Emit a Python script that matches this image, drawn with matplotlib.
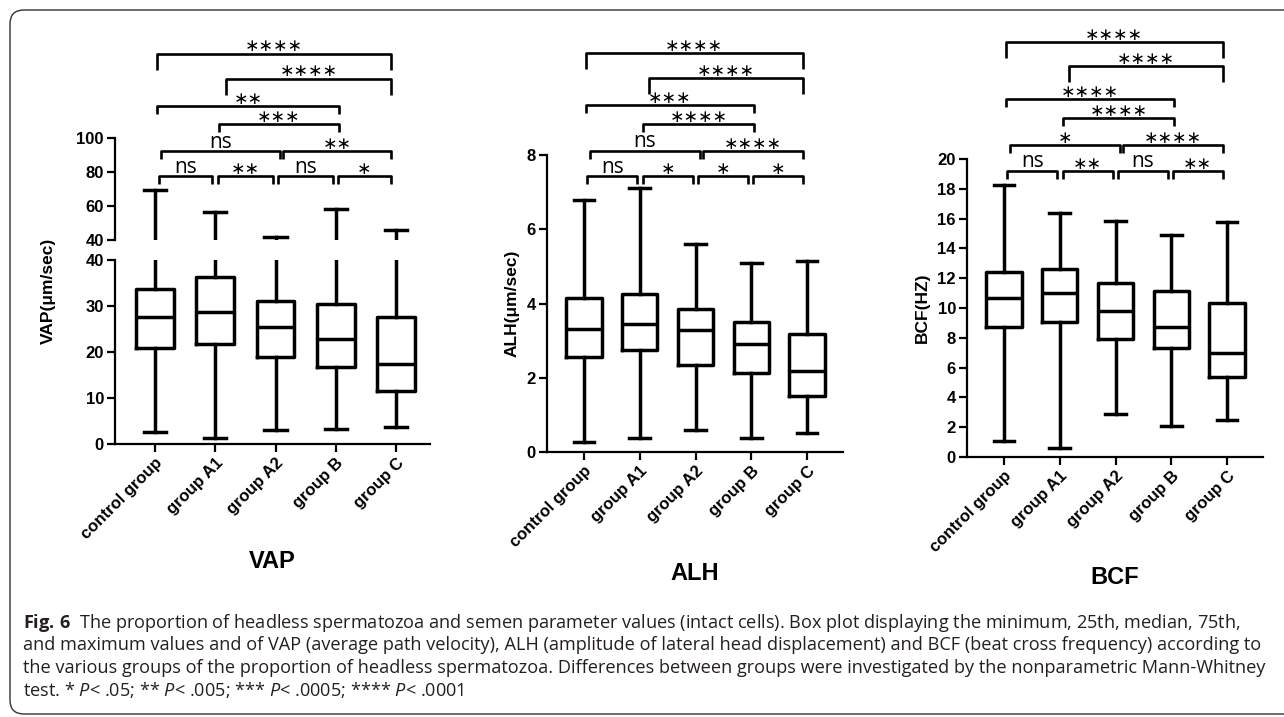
import matplotlib
matplotlib.use("Agg")
import matplotlib.pyplot as plt
from matplotlib.patches import FancyBboxPatch
from matplotlib.transforms import IdentityTransform

plt.rcParams["font.family"] = ["Liberation Sans", "DejaVu Sans"]
plt.rcParams["font.weight"] = "bold"
plt.rcParams["mathtext.fontset"] = "custom"
plt.rcParams["mathtext.rm"] = "Open Sans:normal"
plt.rcParams["mathtext.it"] = "Open Sans:italic:normal"
plt.rcParams["mathtext.bf"] = "Open Sans:bold"

groups = ["control group", "group A1", "group A2", "group B", "group C"]

# five-number summaries: min, q1, median, q3, max
vap_min = [2.6, 1.2, 3.1, 3.3, 3.6]
vap_q1 = [20.8, 21.8, 19.0, 16.7, 11.6]
vap_med = [27.7, 28.8, 25.5, 22.8, 17.4]
vap_q3 = [33.6, 36.4, 31.1, 30.4, 27.7]
vap_max = [69.3, 56.3, 41.7, 58.0, 46.0]

alh_min = [0.26, 0.39, 0.58, 0.37, 0.51]
alh_q1 = [2.56, 2.74, 2.35, 2.14, 1.50]
alh_med = [3.30, 3.46, 3.29, 2.90, 2.19]
alh_q3 = [4.14, 4.25, 3.86, 3.50, 3.18]
alh_max = [6.79, 7.10, 5.60, 5.09, 5.15]

bcf_min = [1.08, 0.60, 2.91, 2.10, 2.47]
bcf_q1 = [8.70, 9.08, 7.94, 7.29, 5.34]
bcf_med = [10.70, 10.99, 9.80, 8.74, 7.00]
bcf_q3 = [12.40, 12.62, 11.68, 11.14, 10.31]
bcf_max = [18.26, 16.40, 15.85, 14.90, 15.77]

# Mann-Whitney comparisons between groups and their significance labels
pairs = [(0, 1), (1, 2), (2, 3), (3, 4), (0, 2), (2, 4), (1, 3), (0, 3), (1, 4), (0, 4)]
vap_sig = ["ns", "**", "ns", "*", "ns", "**", "***", "**", "****", "****"]
alh_sig = ["ns", "*", "*", "*", "ns", "****", "****", "***", "****", "****"]
bcf_sig = ["ns", "**", "ns", "**", "*", "****", "****", "****", "****", "****"]

# bracket heights (data units of each panel)
vap_levels = [77.5, 77.5, 77.5, 77.5, 92.2, 92.2, 108.0, 118.6, 135.0, 149.7]
alh_levels = [7.43, 7.43, 7.43, 7.43, 8.11, 8.11, 8.83, 9.35, 10.07, 10.75]
bcf_levels = [19.2, 19.2, 19.2, 19.2, 20.94, 20.94, 22.75, 24.03, 26.24, 27.85]
bracket_pads = [(0.06, -0.05), (0.05, -0.05), (0.04, -0.05), (0.03, -0.08), (0.10, 0.08),
                (0.13, -0.08), (0.06, 0.05), (0.03, 0.05), (0.17, -0.08), (0.03, -0.08)]
bracket_ticks = [8, 8, 8, 8, 8, 8, 8, 8, 16, 16]

caption = [
    r"$\mathbf{Fig.\,6}$  The proportion of headless spermatozoa and semen parameter values (intact cells). "
    "Box plot displaying the minimum, 25th, median, 75th,",
    "and maximum values and of VAP (average path velocity), ALH (amplitude of lateral head displacement) "
    "and BCF (beat cross frequency) according to",
    "the various groups of the proportion of headless spermatozoa. Differences between groups were "
    "investigated by the nonparametric Mann-Whitney",
    r"test. * $P$< .05; ** $P$< .005; *** $P$< .0005; **** $P$< .0001",
]

W, H = 1284, 717
fig = plt.figure(figsize=(W / 100, H / 100), dpi=100)
LW = 2.5


def px_axes(x0, y_top, x1, y_bot):
    return fig.add_axes([x0 / W, 1 - y_bot / H, (x1 - x0) / W, (y_bot - y_top) / H])


def make_stats(mins, q1s, meds, q3s, maxs):
    return [dict(whislo=a, q1=b, med=c, q3=d, whishi=e, fliers=[])
            for a, b, c, d, e in zip(mins, q1s, meds, q3s, maxs)]


def draw_boxes(ax, stats, xlim, ylim, yticks, show_x=True):
    line = dict(color="black", linewidth=LW)
    ax.bxp(stats, positions=range(len(groups)), widths=0.63, capwidths=0.37,
           showfliers=False, boxprops=line, whiskerprops=line, capprops=line,
           medianprops=line)
    ax.set_xlim(*xlim)
    ax.set_ylim(*ylim)
    ax.set_yticks(yticks)
    ax.set_facecolor("none")
    for s in ["top", "right"]:
        ax.spines[s].set_visible(False)
    for s in ["left", "bottom"]:
        ax.spines[s].set_linewidth(1.6)
    ax.tick_params(length=6, width=1.6, labelsize=12, pad=2)
    if show_x:
        ax.set_xticks(range(len(groups)))
        ax.set_xticklabels(groups, rotation=45, ha="right", rotation_mode="anchor",
                           fontsize=12, fontweight="bold")
    else:
        ax.spines["bottom"].set_visible(False)
        ax.tick_params(axis="x", bottom=False, labelbottom=False)


def draw_brackets(ax, labels, levels):
    y0, y1 = ax.get_ylim()
    unit = (y1 - y0) / (ax.get_position().height * H)
    for (i, j), lab, lev, (pl, pr), tk in zip(pairs, labels, levels, bracket_pads, bracket_ticks):
        xa, xb = i + pl, j + pr
        t = tk * unit
        ax.plot([xa, xa, xb, xb], [lev - t, lev, lev, lev - t], color="black", lw=1.9,
                clip_on=False, solid_joinstyle="round", solid_capstyle="butt")
        if lab == "ns":
            ax.annotate("ns", xy=((xa + xb) / 2, lev), xytext=(0, 2.5),
                        textcoords="offset points", ha="center", va="baseline",
                        family="Open Sans", fontweight="normal", fontsize=15,
                        annotation_clip=False)
        else:
            ax.annotate("\u2217" * len(lab), xy=((xa + xb) / 2, lev), xytext=(0, 1.5),
                        textcoords="offset points", ha="center", va="baseline",
                        family="DejaVu Sans", fontweight="normal", fontsize=12.5,
                        annotation_clip=False)


# VAP with a broken y axis
ax_lo = px_axes(115, 260, 430, 444)
ax_hi = px_axes(115, 138, 430, 240)
vap_stats = make_stats(vap_min, vap_q1, vap_med, vap_q3, vap_max)
draw_boxes(ax_lo, vap_stats, (-0.664, 4.564), (0, 40), [0, 10, 20, 30, 40])
draw_boxes(ax_hi, vap_stats, (-0.664, 4.564), (40, 100), [40, 60, 80, 100], show_x=False)
draw_brackets(ax_hi, vap_sig, vap_levels)

ax_alh = px_axes(547, 155, 843, 452)
draw_boxes(ax_alh, make_stats(alh_min, alh_q1, alh_med, alh_q3, alh_max),
           (-0.664, 4.646), (0, 8), [0, 2, 4, 6, 8])
draw_brackets(ax_alh, alh_sig, alh_levels)

ax_bcf = px_axes(967, 159, 1263, 457)
draw_boxes(ax_bcf, make_stats(bcf_min, bcf_q1, bcf_med, bcf_q3, bcf_max),
           (-0.664, 4.646), (0, 20), list(range(0, 21, 2)))
draw_brackets(ax_bcf, bcf_sig, bcf_levels)

# y labels and panel titles
for x, y, txt in [(48, 291, "VAP(\u03bcm/sec)"), (512, 303, "ALH(\u03bcm/sec)"), (922, 308, "BCF(HZ)")]:
    fig.text(x / W, 1 - y / H, txt, rotation=90, ha="center", va="center",
             fontsize=12.5, fontweight="bold")
for x, y, txt in [(272, 561, "VAP"), (695, 573, "ALH"), (1115, 577, "BCF")]:
    fig.text(x / W, 1 - y / H, txt, ha="center", va="center", fontsize=17, fontweight="bold")

# caption
for k, line in enumerate(caption):
    fig.text(23 / W, 1 - (628 + 22.5 * k) / H, line, ha="left", va="baseline",
             family="Open Sans", fontweight="normal", fontsize=13.1, color="#231f20")

# rounded frame, open on the right
frame = FancyBboxPatch((10, 3), 1320, 704, boxstyle="round,pad=0,rounding_size=14",
                       transform=IdentityTransform(), fill=False, edgecolor="#333333",
                       linewidth=1.0, clip_on=False)
fig.add_artist(frame)

fig.savefig("out.png", dpi=100)
